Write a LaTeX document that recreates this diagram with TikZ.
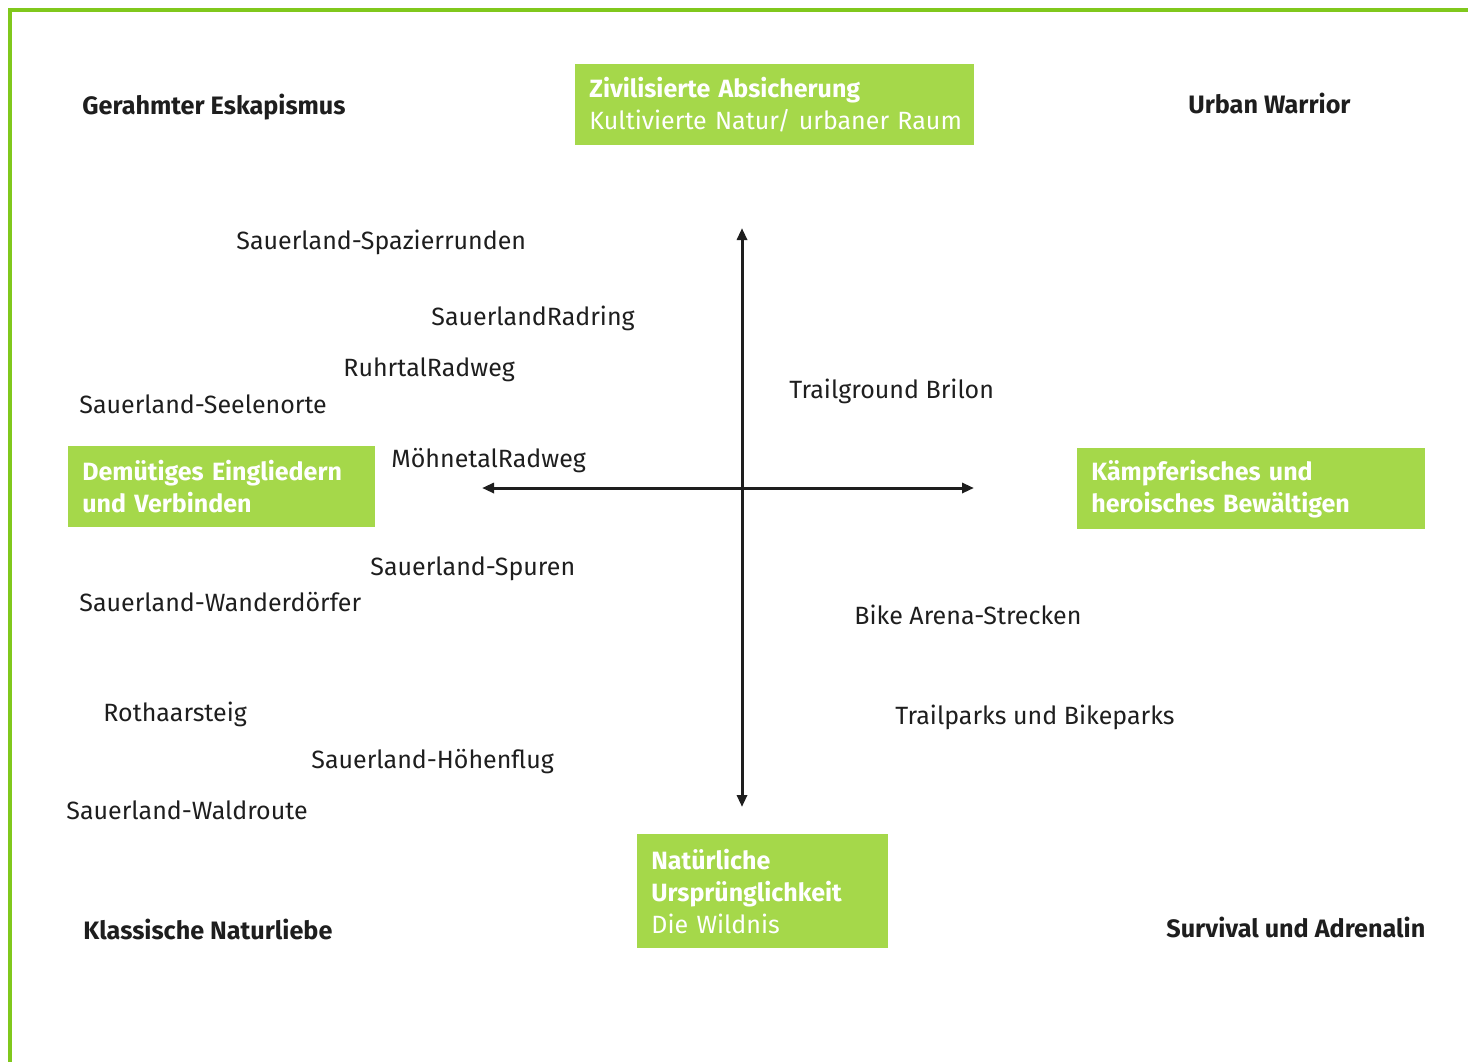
\documentclass[tikz,border=0pt]{standalone}
\usepackage{fontspec}
\setmainfont{Fira Sans}
\usepackage{xcolor}
\usetikzlibrary{arrows.meta,positioning}
\definecolor{framegreen}{RGB}{128,200,28}
\definecolor{boxgreen}{RGB}{165,216,74}
\definecolor{ink}{RGB}{30,30,30}

\begin{document}
\begin{tikzpicture}[x=0.5pt,y=-0.5pt,
  every node/.style={font=\fontsize{12.5}{16}\selectfont,text=ink,inner sep=0pt},
  item/.style={anchor=west},
  corner/.style={anchor=west,font=\fontsize{12.6}{16}\selectfont\bfseries},
  greenbox/.style={anchor=north west,fill=boxgreen,text=white,align=left,
    inner xsep=7pt,inner ysep=0pt},
  axis/.style={line width=1.5pt,draw=ink,{Triangle[length=6pt,width=5pt]}-{Triangle[length=6pt,width=5pt]}}]
  \useasboundingbox (0,0) rectangle (1468,1062);
  % frame
  \draw[framegreen,line width=2pt] (1468,10) -- (10,10) -- (10,1062);
  % axes
  \coordinate (top) at (742,228);
  \coordinate (bottom) at (742,807);
  \coordinate (left) at (482,488);
  \coordinate (right) at (974,488);
  \draw[axis] (top) -- (bottom);
  \draw[axis] (left) -- (right);
  % green boxes
  \node[greenbox,text width=185.5pt,minimum height=40.5pt] (civil) at (575,64)
    {\textbf{Zivilisierte Absicherung}\\\mbox{Kultivierte Natur/ urbaner Raum}};
  \node[greenbox,text width=139.5pt,minimum height=40.5pt] (humble) at (68,446)
    {\textbf{Demütiges Eingliedern}\\\textbf{und Verbinden}};
  \node[greenbox,text width=160pt,minimum height=40.5pt] (heroic) at (1077,448)
    {\textbf{Kämpferisches und}\\\textbf{heroisches Bewältigen}};
  \node[greenbox,text width=111.5pt,minimum height=57pt] (wild) at (637,834)
    {\textbf{Natürliche}\\\textbf{Ursprünglichkeit}\\Die Wildnis};
  % corner labels
  \node[corner] (escape) at (82,107) {Gerahmter Eskapismus};
  \node[corner] (urban) at (1188,103) {Urban Warrior};
  \node[corner] (classic) at (83,929) {Klassische Naturliebe};
  \node[corner] (survival) at (1166,927) {Survival und Adrenalin};
  % offers
  \node[item] (walks) at (236,242) {Sauerland-Spazierrunden};
  \node[item] (radring) at (431,318) {SauerlandRadring};
  \node[item] (ruhrtal) at (343,370) {RuhrtalRadweg};
  \node[item] (seelen) at (79,404) {Sauerland-Seelenorte};
  \node[item] (moehne) at (391,461) {MöhnetalRadweg};
  \node[item] (brilon) at (789,391) {Trailground Brilon};
  \node[item] (spuren) at (370,569) {Sauerland-Spuren};
  \node[item] (dorf) at (79,602) {Sauerland-Wanderdörfer};
  \node[item] (arena) at (854,615) {Bike Arena-Strecken};
  \node[item] (parks) at (895,717) {Trailparks und Bikeparks};
  \node[item] (rothaar) at (103,714) {Rothaarsteig};
  \node[item] (hoehen) at (311,762) {Sauerland-Höhenflug};
  \node[item] (wald) at (66,810) {Sauerland-Waldroute};
\end{tikzpicture}
\end{document}
